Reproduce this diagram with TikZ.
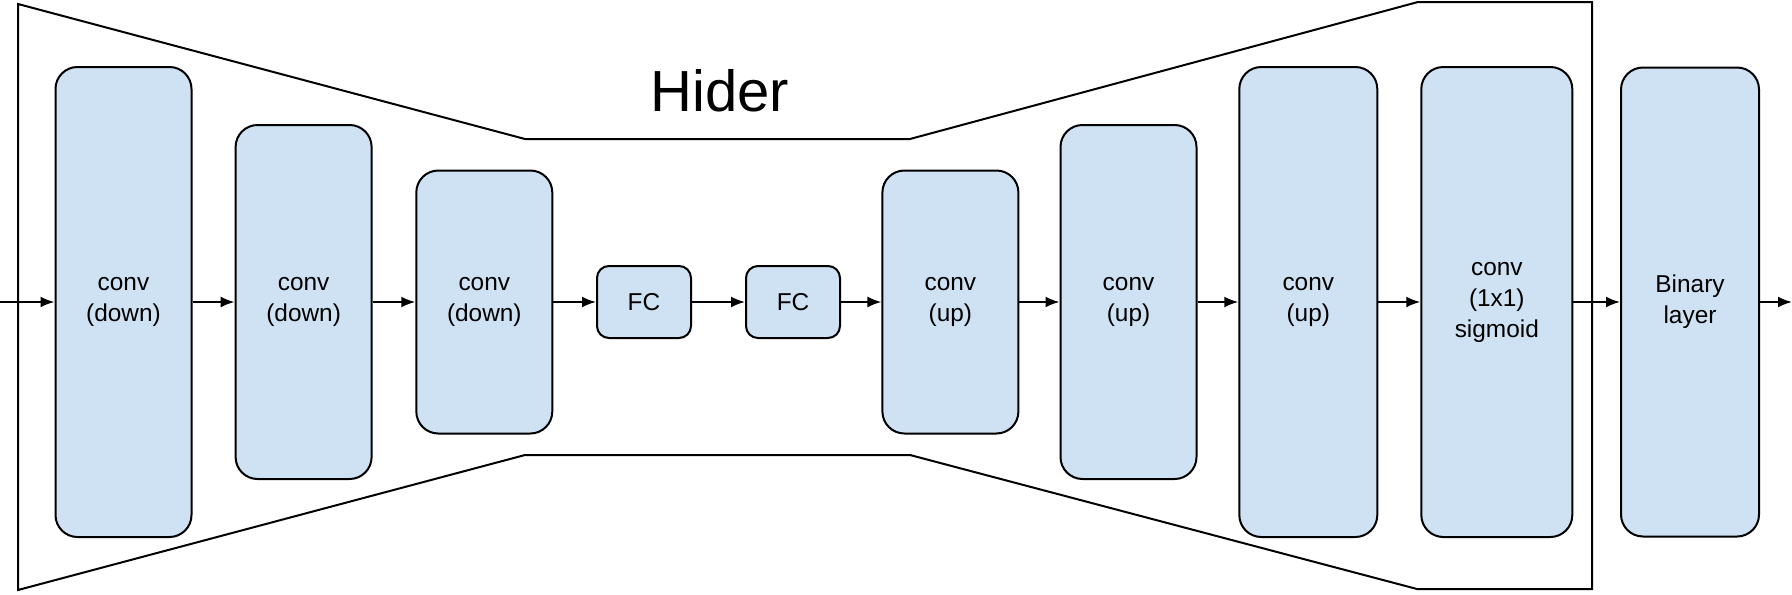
\documentclass[tikz,border=0pt]{standalone}
\usepackage{fontspec}
\setmainfont{Liberation Sans}
\usetikzlibrary{arrows.meta}
\definecolor{layerblue}{HTML}{CFE2F3}

\begin{document}
\begin{tikzpicture}[x=0.5pt,y=-0.5pt,
    layer/.style={draw,line width=1pt,fill=layerblue,rounded corners=11pt,
      align=center,inner sep=0pt,font=\fontsize{12.2}{15.5}\selectfont},
    fcbox/.style={layer,rounded corners=6pt,minimum width=47pt,minimum height=36pt},
    flow/.style={line width=1pt,-{Latex[length=7pt,width=5.5pt]}}]
      \useasboundingbox (0,0) rectangle (1792,594);

      % hider outline
      \draw[line width=1pt] (18,4) -- (525,139) -- (910,139) -- (1418,2) -- (1592,2)
        -- (1592,589) -- (1417,589) -- (910,455) -- (525,455) -- (18,590) -- cycle;
      \node[font=\fontsize{29}{35}\selectfont,anchor=base] (title) at (720,111) {Hider};

      \node[layer,minimum width=68pt,minimum height=235pt] (d1) at (123.5,302) {conv\\(down)};
      \node[layer,minimum width=68pt,minimum height=177pt] (d2) at (303.6,302) {conv\\(down)};
      \node[layer,minimum width=68pt,minimum height=131.5pt] (d3) at (484.3,302) {conv\\(down)};
      \node[fcbox] (fc1) at (644,302) {FC};
      \node[fcbox] (fc2) at (793,302) {FC};
      \node[layer,minimum width=68pt,minimum height=131.5pt] (u1) at (950.4,302) {conv\\(up)};
      \node[layer,minimum width=68pt,minimum height=177pt] (u2) at (1128.5,302) {conv\\(up)};
      \node[layer,minimum width=69pt,minimum height=235pt] (u3) at (1308.3,302) {conv\\(up)};
      \node[layer,minimum width=75.5pt,minimum height=235pt] (sg) at (1496.8,302) {conv\\(1x1)\\sigmoid};
      \node[layer,minimum width=69pt,minimum height=234.5pt] (bin) at (1690,302) {Binary\\layer};

      \coordinate (in) at (0,302);
      \coordinate (out) at (1792,302);

      \draw[flow] (in) -- (d1);
      \draw[flow] (d1) -- (d2);
      \draw[flow] (d2) -- (d3);
      \draw[flow] (d3) -- (fc1);
      \draw[flow] (fc1) -- (fc2);
      \draw[flow] (fc2) -- (u1);
      \draw[flow] (u1) -- (u2);
      \draw[flow] (u2) -- (u3);
      \draw[flow] (u3) -- (sg);
      \draw[flow] (sg) -- (bin);
      \draw[flow] (bin) -- (out);
    \end{tikzpicture}
\end{document}
